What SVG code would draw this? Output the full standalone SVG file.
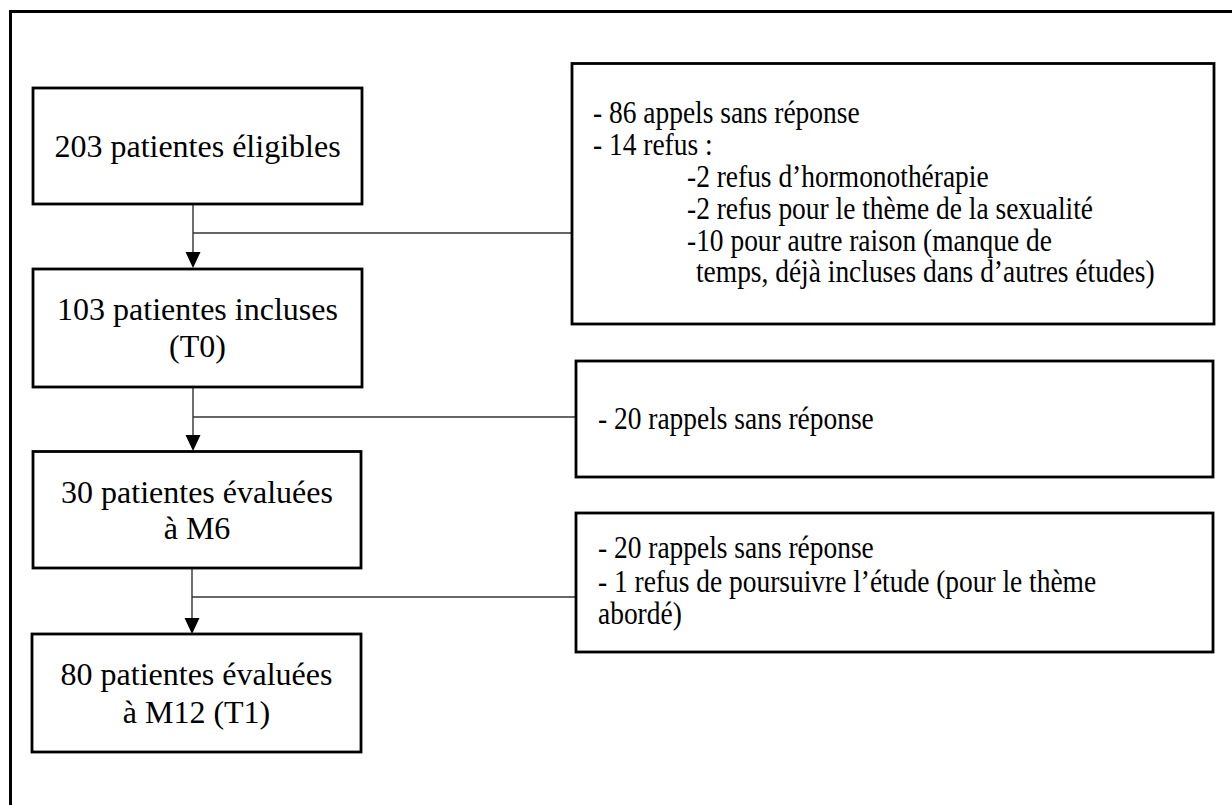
<svg xmlns="http://www.w3.org/2000/svg" width="1232" height="805" viewBox="0 0 1232 805" font-family="'Liberation Serif', 'Times New Roman', Times, serif">
<style>
.frame{fill:none;stroke:#000;stroke-width:3}
.box{fill:#fff;stroke:#000;stroke-width:2.8}
.ln{fill:none;stroke:#333;stroke-width:1.4}
.ah{fill:#000;stroke:none}
text{font-family:'Liberation Serif','Times New Roman',Times,serif;fill:#000}
.lt{font-size:32px;text-anchor:middle}
.rt{font-size:31px}
</style>
<rect width="1232" height="805" fill="#fff"/>
<rect class="frame" x="10.5" y="11.5" width="1300" height="900"/>
<g id="connectors">
<line class="ln" x1="193" y1="204" x2="193" y2="254"/>
<polygon class="ah" points="185.5,252 200.5,252 193,268"/>
<line class="ln" x1="193" y1="233" x2="572" y2="233"/>
<line class="ln" x1="193" y1="387" x2="193" y2="437"/>
<polygon class="ah" points="185.5,435 200.5,435 193,451"/>
<line class="ln" x1="193" y1="417" x2="576" y2="417"/>
<line class="ln" x1="192" y1="568" x2="192" y2="620"/>
<polygon class="ah" points="184.5,618 199.5,618 192,634"/>
<line class="ln" x1="192" y1="597" x2="576" y2="597"/>
</g>
<g id="n1">
<rect class="box" x="33" y="88" width="329" height="116"/>
<text class="lt" x="197.5" y="157">203 patientes éligibles</text>
</g>
<g id="n2">
<rect class="box" x="33" y="269" width="329" height="118"/>
<text class="lt" x="197.5" y="320">103 patientes incluses</text>
<text class="lt" x="197.5" y="357">(T0)</text>
</g>
<g id="n3">
<rect class="box" x="33" y="451.5" width="328" height="116.5"/>
<text class="lt" x="197" y="503">30 patientes évaluées</text>
<text class="lt" x="197" y="539">à M6</text>
</g>
<g id="n4">
<rect class="box" x="32" y="634" width="329" height="118"/>
<text class="lt" x="196.5" y="685">80 patientes évaluées</text>
<text class="lt" x="196.5" y="723">à M12 (T1)</text>
</g>
<g id="r1">
<rect class="box" x="572" y="63.5" width="642" height="260.5"/>
<text class="rt" transform="translate(593,123) scale(0.885,1)">- 86 appels sans réponse</text>
<text class="rt" transform="translate(593,155) scale(0.885,1)">- 14 refus :</text>
<text class="rt" transform="translate(687,187) scale(0.885,1)">-2 refus d’hormonothérapie</text>
<text class="rt" transform="translate(687,219) scale(0.885,1)">-2 refus pour le thème de la sexualité</text>
<text class="rt" transform="translate(687,251) scale(0.885,1)">-10 pour autre raison (manque de</text>
<text class="rt" transform="translate(696,282) scale(0.885,1)">temps, déjà incluses dans d’autres études)</text>
</g>
<g id="r2">
<rect class="box" x="576" y="361" width="637" height="116"/>
<text class="rt" transform="translate(598,429) scale(0.885,1)">- 20 rappels sans réponse</text>
</g>
<g id="r3">
<rect class="box" x="576" y="513" width="637" height="139"/>
<text class="rt" transform="translate(598,558) scale(0.885,1)">- 20 rappels sans réponse</text>
<text class="rt" transform="translate(598,592) scale(0.885,1)">- 1 refus de poursuivre l’étude (pour le thème</text>
<text class="rt" transform="translate(598,624) scale(0.885,1)">abordé)</text>
</g>
</svg>
